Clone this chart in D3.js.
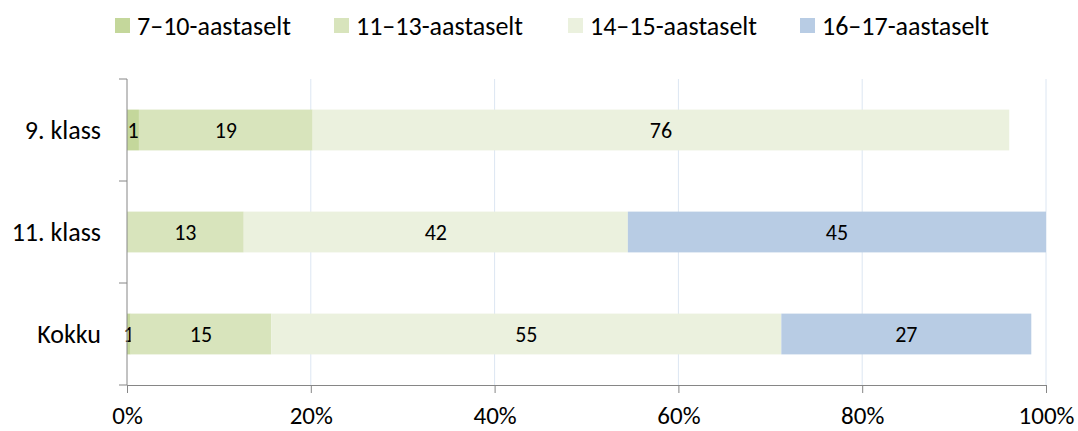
<!DOCTYPE html>
<html><head><meta charset="utf-8">
<script src="https://cdn.jsdelivr.net/npm/d3@7"></script>
<style>
body{margin:0;background:#fff;}
text{font-family:Carlito,Lato,"Open Sans",sans-serif;fill:#000;}
</style></head>
<body><svg id="c" width="1078" height="431"></svg>
<script>
const categories = ["9. klass", "11. klass", "Kokku"];
const seriesNames = ["7–10-aastaselt", "11–13-aastaselt", "14–15-aastaselt", "16–17-aastaselt"];
const s1 = [1.3, 0, 0.4];
const s2 = [18.9, 12.7, 15.3];
const s3 = [75.8, 41.8, 55.5];
const s4 = [0, 45.5, 27.2];
const l1 = ["1", "", "1"];
const l2 = ["19", "13", "15"];
const l3 = ["76", "42", "55"];
const l4 = ["", "45", "27"];
const xTicks = [0, 20, 40, 60, 80, 100];
const colors = ["#c4d79b", "#d8e4bc", "#ebf1de", "#b8cce4"];

const svg = d3.select("#c");
const m = {l:127, r:1046, t:79, b:385};
const x = d3.scaleLinear().domain([0,100]).range([m.l, m.r]);
const y = d3.scaleBand().domain(categories).range([m.t, m.b]).paddingInner(0.6).paddingOuter(0.3);

const vals = [s1,s2,s3,s4], labs=[l1,l2,l3,l4];
const rows = categories.map((c,i)=>{const o={cat:c}; seriesNames.forEach((s,j)=>o[s]=vals[j][i]); return o;});
const stack = d3.stack().keys(seriesNames)(rows);

// grid
svg.append("g").selectAll("line").data(xTicks.slice(1)).join("line")
  .attr("x1",d=>x(d)).attr("x2",d=>x(d)).attr("y1",m.t).attr("y2",m.b)
  .attr("stroke","#dce6f2").attr("stroke-width",1);

// bars
stack.forEach((layer,j)=>{
  const g = svg.append("g");
  g.selectAll("rect").data(layer).join("rect")
    .attr("x",d=>x(d[0])).attr("width",d=>x(d[1])-x(d[0]))
    .attr("y",(d,i)=>y(categories[i])).attr("height",y.bandwidth())
    .attr("fill",colors[j]);
  g.selectAll("text").data(layer).join("text")
    .attr("x",d=>(x(d[0])+x(d[1]))/2).attr("y",(d,i)=>y(categories[i])+y.bandwidth()/2)
    .attr("dy","0.36em").attr("text-anchor","middle").attr("font-size",22)
    .text((d,i)=>labs[j][i]);
});

// axes
const xa = svg.append("g").attr("transform",`translate(0,${m.b})`)
  .call(d3.axisBottom(x).tickValues(xTicks).tickFormat(d=>d+"%").tickSize(8).tickPadding(13));
xa.selectAll("text").attr("font-size",25);
xa.selectAll("line,path").attr("stroke","#868686");
xa.select("path").attr("d",`M${m.l},0.5H${m.r}`);

const ya = svg.append("g").attr("transform",`translate(${m.l},0)`);
const bounds = d3.range(categories.length+1).map(i=>m.t + i*(m.b-m.t)/categories.length);
ya.append("line").attr("x1",0).attr("x2",0).attr("y1",m.t).attr("y2",m.b).attr("stroke","#868686");
ya.selectAll("line.t").data(bounds).join("line").attr("class","t")
  .attr("x1",-8).attr("x2",0).attr("y1",d=>d).attr("y2",d=>d).attr("stroke","#868686");
ya.selectAll("text").data(categories).join("text")
  .attr("x",-26).attr("y",d=>y(d)+y.bandwidth()/2).attr("dy","0.36em")
  .attr("text-anchor","end").attr("font-size",26).text(d=>d);

// legend
const legX = [115, 334, 568, 800];
const lg = svg.append("g");
seriesNames.forEach((s,j)=>{
  lg.append("rect").attr("x",legX[j]).attr("y",18).attr("width",15).attr("height",15).attr("fill",colors[j]);
  lg.append("text").attr("x",legX[j]+22).attr("y",26).attr("dy","0.36em").attr("font-size",26).text(s);
});
</script></body></html>
